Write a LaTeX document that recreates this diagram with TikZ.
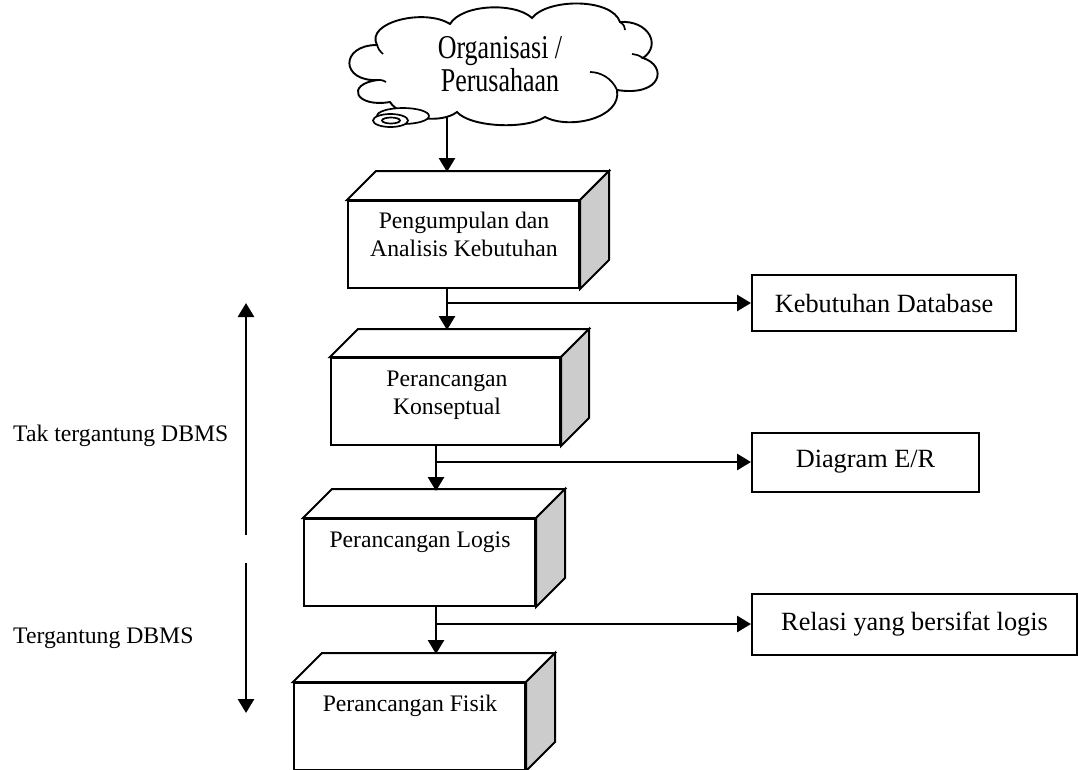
\documentclass[tikz,border=0pt]{standalone}
\usepackage{fontspec}
\setmainfont{Liberation Serif}
\usetikzlibrary{arrows.meta,calc}
\tikzset{
  edge/.style={line width=2.8, -{Triangle[length=14,width=16]}},
  face/.style={draw, line width=2, line join=miter, fill=white},
  sideface/.style={draw, line width=2, line join=miter, fill=gray!40},
  cube/.style={draw, line width=2, fill=white, minimum width=231, minimum height=87, inner sep=0},
  outbox/.style={draw, line width=2, inner sep=0, font=\fontsize{26.3}{30}\selectfont},
  boxtext/.style={font=\fontsize{23.7}{28}\selectfont, align=center, inner sep=0},
  sidetext/.style={font=\fontsize{23.7}{28}\selectfont, inner sep=0},
  cloudline/.style={draw, line width=1.9, fill=white},
}
\newcommand\cubefaces[2]{%
  \path[face] (#1.north west) -- ++(#2,-#2) -- ($(#1.north east)+(#2,-#2)$) -- (#1.north east) -- cycle;
  \path[sideface] (#1.north east) -- ++(#2,-#2) -- ($(#1.south east)+(#2,-#2)$) -- (#1.south east) -- cycle;}
\begin{document}
\begin{tikzpicture}[x=1pt,y=-1pt]
\useasboundingbox (0,0) rectangle (1078,769);
\clip (0,0) rectangle (1078,769);
% cloud
\path[cloudline] (377,45)
 .. controls (365,22) and (425,8) .. (450,24)
 .. controls (462,4) and (515,2) .. (532,18)
 .. controls (548,-2) and (612,-2) .. (620,22)
 .. controls (648,20) and (662,45) .. (643,58)
 .. controls (668,66) and (662,97) .. (617,90)
 .. controls (622,118) and (570,130) .. (545,117)
 .. controls (525,130) and (470,127) .. (457,112)
 .. controls (440,125) and (400,118) .. (390,102)
 .. controls (355,108) and (345,84) .. (378,80)
 .. controls (340,82) and (340,45) .. (377,45) -- cycle;
\draw[line width=1.7] (377,45) .. controls (379,50) .. (383,54);
\draw[line width=1.7] (620,22) .. controls (624,25) .. (625,30);
\draw[line width=1.7] (643,58) .. controls (638,55) .. (632,54);
\draw[line width=1.7] (617,90) .. controls (612,78) and (600,72) .. (590,72);
\draw[line width=1.7] (378,80) .. controls (382,80) .. (386,82);
\path[cloudline, line width=1.7] (403,116) ellipse [x radius=26, y radius=8];
\path[cloudline, line width=1.7] (390.5,120.5) ellipse [x radius=17.5, y radius=6.5];
\draw[line width=1.7] (391,120.5) ellipse [x radius=9, y radius=3];
\node[font=\fontsize{26}{26}\selectfont, inner sep=0] (org) at (500,68)
  {\scalebox{1}[1.28]{\begin{tabular}{@{}c@{}}Organisasi /\\Perusahaan\end{tabular}}};
\coordinate (cb) at (447,117);

% 3D boxes
\node[cube] (b1) at (463.5,244.5) {};
\cubefaces{b1}{29}
\node[boxtext] (t1) at (464,234) {Pengumpulan dan\\Analisis Kebutuhan};
\node[cube, minimum width=229] (b2) at (445.5,401.5) {};
\cubefaces{b2}{28}
\node[boxtext] (t2) at (447,395) {Perancangan\\Konseptual};
\node[cube] (b3) at (419.5,562.5) {};
\cubefaces{b3}{29}
\node[boxtext, anchor=base] (t3) at (420,547) {Perancangan Logis};
\node[cube] (b4) at (409.5,726.5) {};
\cubefaces{b4}{29}
\node[boxtext, anchor=base] (t4) at (410,711) {Perancangan Fisik};

% output boxes
\node[outbox, anchor=west, minimum width=264, minimum height=56] (kd) at (751,303) {Kebutuhan Database};
\node[outbox, anchor=west, minimum width=227, minimum height=59] (er) at (751,462) {Diagram E/R};
\node[outbox, anchor=west, minimum width=325, minimum height=61] (rel) at (751,624) {Relasi yang bersifat logis};

% connectors
\coordinate (b1top) at (447,172);
\coordinate (b2top) at (447,330);
\coordinate (b3top) at (436,491);
\coordinate (b4top) at (436,654);
\coordinate (j1) at (447,303);
\coordinate (j2) at (436,462);
\coordinate (j3) at (436,624);
\draw[edge] (cb) -- (b1top);
\draw[edge] (b1.south -| b1top) -- (b2top);
\draw[edge] (j1) -- (kd.west);
\draw[edge] (b2.south -| b3top) -- (b3top);
\draw[edge] (j2) -- (er.west);
\draw[edge] (b3.south -| b4top) -- (b4top);
\draw[edge] (j3) -- (rel.west);

% side labels
\node[sidetext, anchor=base west] (lt) at (13,441) {Tak tergantung DBMS};
\node[sidetext, anchor=base west] (lb) at (13,643) {Tergantung DBMS};
\coordinate (ua) at (246,535);
\coordinate (ut) at (246,303);
\coordinate (da) at (246,563);
\coordinate (dt) at (246,713);
\draw[edge] (ua) -- (ut);
\draw[edge] (da) -- (dt);
\end{tikzpicture}
\end{document}
